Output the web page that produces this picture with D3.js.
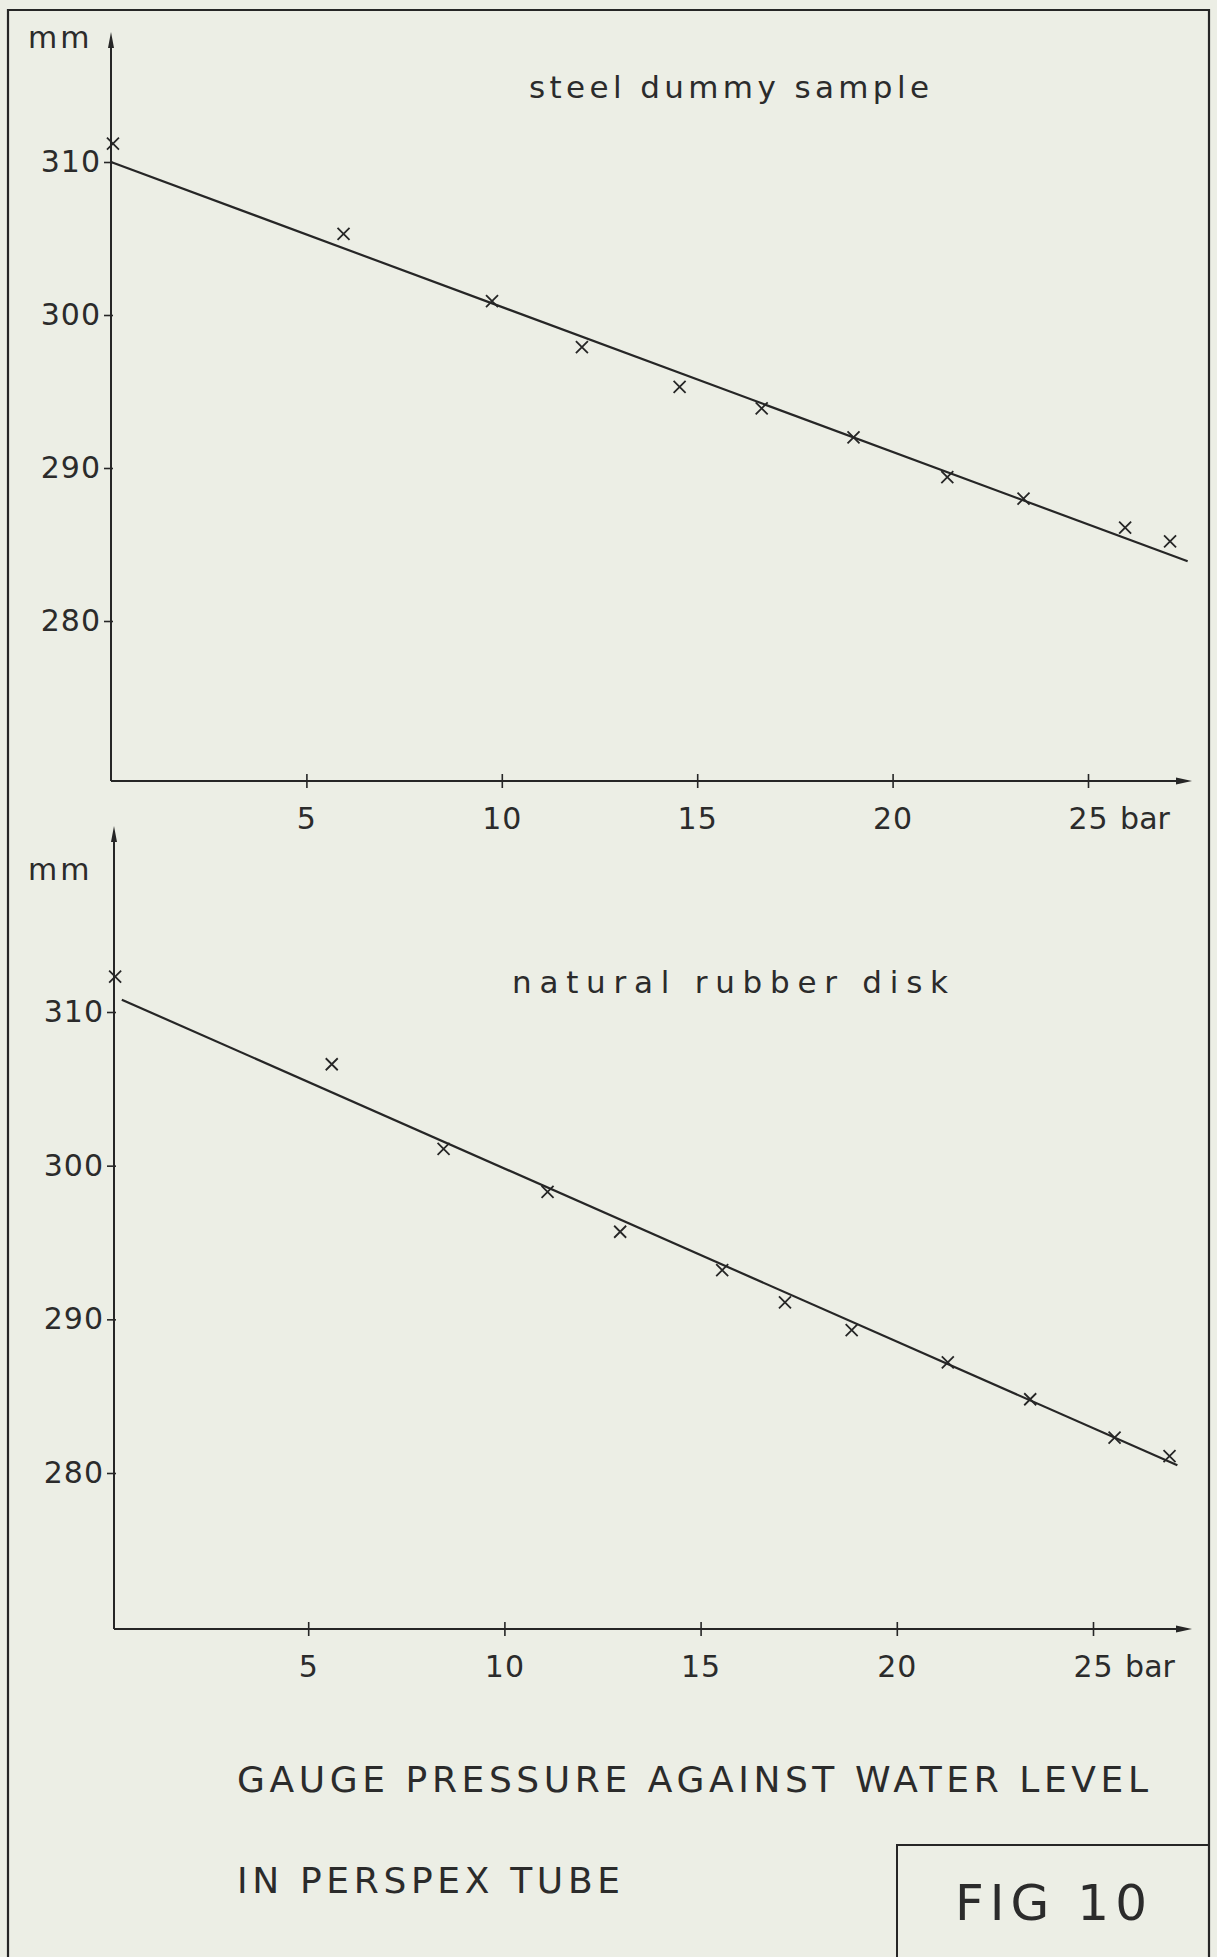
<!DOCTYPE html>
<html><head><meta charset="utf-8">
<script src="https://cdn.jsdelivr.net/npm/d3@7"></script>
<style>
html,body{margin:0;padding:0;background:#eceee5;}
svg{display:block}
text{font-family:"DejaVu Sans",sans-serif;fill:#2b2b2b;}
</style>
</head><body>
<svg id="chart" width="1217" height="1957"></svg>
<script>
// ---------- data ----------
const yTickValues = [280, 290, 300, 310];
const xTickValues = [5, 10, 15, 20, 25];
const xUnit = "bar";
const yUnit = "mm";

const steelTitle = "steel dummy sample";
const steelPressure = [0.05, 5.95, 9.75, 12.05, 14.55, 16.65, 19.0, 21.4, 23.35, 25.95, 27.1];
const steelLevel    = [311.2, 305.3, 300.9, 297.9, 295.3, 293.9, 292.0, 289.4, 288.0, 286.1, 285.2];
const steelFitPressure = [0.0, 27.55];
const steelFitLevel    = [310.0, 283.9];

const rubberTitle = "natural rubber disk";
const rubberPressure = [0.08, 5.6, 8.45, 11.1, 12.95, 15.55, 17.15, 18.85, 21.3, 23.4, 25.55, 26.95];
const rubberLevel    = [312.3, 306.6, 301.1, 298.3, 295.7, 293.2, 291.1, 289.3, 287.2, 284.8, 282.3, 281.1];
const rubberFitPressure = [0.25, 27.15];
const rubberFitLevel    = [310.8, 280.5];

const captionLines = ["GAUGE PRESSURE AGAINST WATER LEVEL", "IN PERSPEX TUBE"];
const figLabel = "FIG 10";

// ---------- drawing ----------
const ink = "#262626";
const svg = d3.select("#chart");

// outer frame (left, top, right; open at bottom)
svg.append("path")
  .attr("d", "M8,1957 L8,10 L1209,10 L1209,1957")
  .attr("fill", "none").attr("stroke", ink).attr("stroke-width", 2.2);

function drawPanel(cfg) {
  const g = svg.append("g");
  const x = d3.scaleLinear().domain([0, 25]).range([cfg.x0, cfg.x25]);
  const y = d3.scaleLinear().domain([280, 310]).range([cfg.y280, cfg.y310]);
  const ax = x(0) + cfg.yAxisShift;

  // axis lines
  g.append("line").attr("x1", ax).attr("x2", ax).attr("y1", cfg.axisY).attr("y2", cfg.yTop + 10)
    .attr("stroke", ink).attr("stroke-width", 2);
  g.append("path").attr("d", `M${ax},${cfg.yTop} L${ax - 3},${cfg.yTop + 16} L${ax + 3},${cfg.yTop + 16} Z`)
    .attr("fill", ink);
  g.append("line").attr("x1", ax).attr("x2", cfg.xEnd - 10).attr("y1", cfg.axisY).attr("y2", cfg.axisY)
    .attr("stroke", ink).attr("stroke-width", 2);
  g.append("path").attr("d", `M${cfg.xEnd},${cfg.axisY} L${cfg.xEnd - 16},${cfg.axisY - 3.5} L${cfg.xEnd - 16},${cfg.axisY + 3.5} Z`)
    .attr("fill", ink);

  // y axis ticks & labels
  const yg = g.append("g").attr("transform", `translate(${ax},0)`)
    .call(d3.axisLeft(y).tickValues(yTickValues).tickSizeInner(7).tickSizeOuter(0).tickPadding(3));
  yg.select(".domain").remove();
  yg.selectAll(".tick line").attr("x1", 2).attr("stroke", ink).attr("stroke-width", 1.6);
  yg.selectAll(".tick text").attr("font-size", 30).attr("letter-spacing", 1)
    .attr("font-family", "DejaVu Sans").attr("fill", "#2b2b2b");

  // x axis ticks & labels
  const xg = g.append("g").attr("transform", `translate(0,${cfg.axisY})`)
    .call(d3.axisBottom(x).tickValues(xTickValues).tickSize(7).tickPadding(20));
  xg.select(".domain").remove();
  xg.selectAll(".tick line").attr("y1", -7).attr("stroke", ink).attr("stroke-width", 1.6);
  xg.selectAll(".tick text").attr("font-size", 30).attr("letter-spacing", 1)
    .attr("font-family", "DejaVu Sans").attr("fill", "#2b2b2b");
  // unit after last tick label
  const lastText = xg.selectAll(".tick text").filter(d => d === xTickValues[xTickValues.length - 1]);
  const lw = lastText.node().getComputedTextLength();
  g.append("text").attr("x", x(xTickValues[xTickValues.length - 1]) + lw / 2 + 12)
    .attr("y", cfg.axisY + 27).attr("dy", "0.71em")
    .attr("font-size", 30).text(xUnit);

  // unit label
  g.append("text").attr("x", 28).attr("y", cfg.mmY).attr("font-size", 30)
    .attr("letter-spacing", 3).text(yUnit);

  // title
  g.append("text").attr("x", cfg.titleX).attr("y", cfg.titleY).attr("font-size", 31)
    .attr("textLength", cfg.titleW).attr("lengthAdjust", "spacing").text(cfg.title);

  // fitted line
  const fit = cfg.fitP.map((p, i) => [p, cfg.fitL[i]]);
  g.append("path").datum(fit)
    .attr("d", d3.line().x(d => x(d[0])).y(d => y(d[1])))
    .attr("fill", "none").attr("stroke", ink).attr("stroke-width", 2.2);

  // crosses
  const pts = cfg.p.map((p, i) => [p, cfg.l[i]]);
  const s = 6;
  g.selectAll(".pt").data(pts).enter().append("path")
    .attr("d", d => {
      const cx = x(d[0]), cy = y(d[1]);
      return `M${cx - s},${cy - s} L${cx + s},${cy + s} M${cx - s},${cy + s} L${cx + s},${cy - s}`;
    })
    .attr("stroke", ink).attr("stroke-width", 1.8).attr("fill", "none");
}

drawPanel({
  x0: 111, x25: 1088, y280: 621, y310: 162,
  yAxisShift: 0, axisY: 781, yTop: 32, xEnd: 1192, mmY: 48,
  title: steelTitle, titleX: 529, titleY: 98, titleW: 400,
  p: steelPressure, l: steelLevel, fitP: steelFitPressure, fitL: steelFitLevel
});

drawPanel({
  x0: 112, x25: 1093, y280: 1473, y310: 1012,
  yAxisShift: 2, axisY: 1629, yTop: 826, xEnd: 1192, mmY: 880,
  title: rubberTitle, titleX: 512, titleY: 993, titleW: 436,
  p: rubberPressure, l: rubberLevel, fitP: rubberFitPressure, fitL: rubberFitLevel
});

// caption
svg.append("text").attr("x", 237).attr("y", 1792).attr("font-size", 36)
  .attr("textLength", 911).attr("lengthAdjust", "spacing").text(captionLines[0]);
svg.append("text").attr("x", 237).attr("y", 1893).attr("font-size", 36)
  .attr("textLength", 383).attr("lengthAdjust", "spacing").text(captionLines[1]);

// FIG box
svg.append("path").attr("d", "M897,1957 L897,1845 L1209,1845")
  .attr("fill", "none").attr("stroke", ink).attr("stroke-width", 2);
svg.append("text").attr("x", 955).attr("y", 1920).attr("font-size", 50)
  .attr("textLength", 192).attr("lengthAdjust", "spacing").text(figLabel);
</script>
</body></html>
